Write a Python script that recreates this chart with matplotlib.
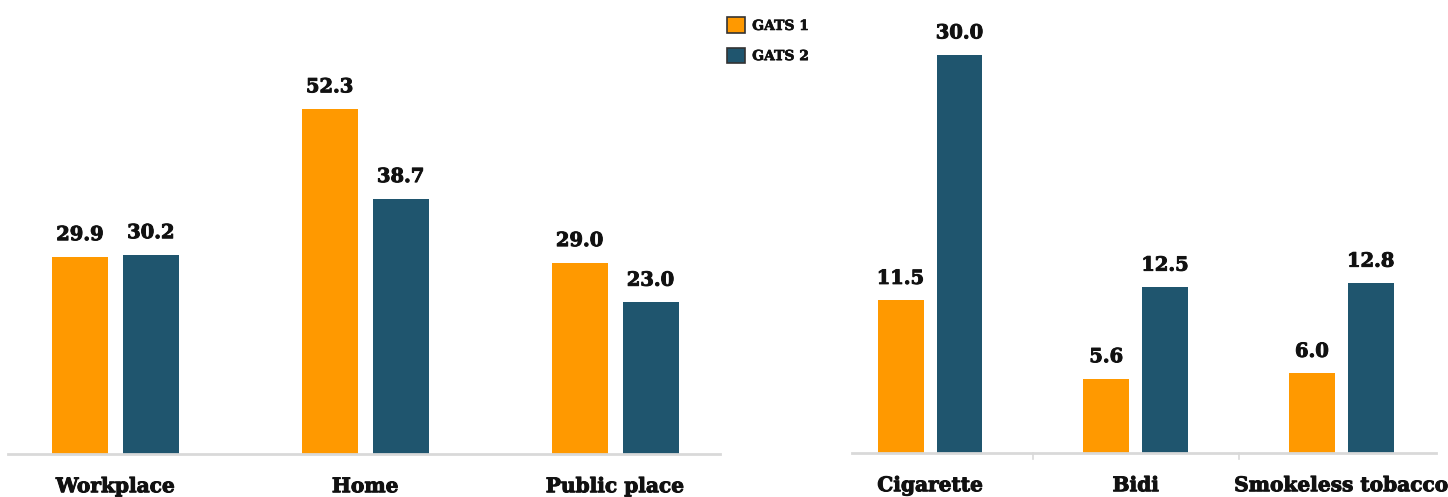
import matplotlib
matplotlib.use("Agg")
import matplotlib.pyplot as plt
import matplotlib.patheffects as pe
import numpy as np

# exposure to second-hand smoke, by place
places = ["Workplace", "Home", "Public place"]
place_gats1 = [29.9, 52.3, 29.0]
place_gats2 = [30.2, 38.7, 23.0]

# tobacco product use
products = ["Cigarette", "Bidi", "Smokeless tobacco"]
product_gats1 = [11.5, 5.6, 6.0]
product_gats2 = [30.0, 12.5, 12.8]

series_names = ["GATS 1", "GATS 2"]
orange = "#FF9900"
blue = "#1F556E"
axis_grey = "#D9D9D9"
text_col = "#111111"

plt.rcParams["font.family"] = ["DejaVu Serif"]
plt.rcParams["font.weight"] = "bold"

fig = plt.figure(figsize=(14.48, 4.97), dpi=100)

W, H = 1448, 497
heavy = [pe.withStroke(linewidth=0.7, foreground=text_col)]


def draw_panel(ax, cats, v1, v2, width, gap, ymax, xlim, ticks):
    x = np.arange(len(cats))
    off = (width + gap) / 2
    b1 = ax.bar(x - off, v1, width, color=orange, label=series_names[0])
    b2 = ax.bar(x + off, v2, width, color=blue, label=series_names[1])
    for bars in (b1, b2):
        for rect in bars:
            h = rect.get_height()
            ax.annotate(f"{h:.1f}", (rect.get_x() + rect.get_width() / 2, h),
                        xytext=(0, 9), textcoords="offset points",
                        ha="center", va="bottom", fontsize=14, fontweight="bold",
                        color=text_col, path_effects=heavy)
    ax.set_xlim(*xlim)
    ax.set_ylim(0, ymax)
    ax.set_yticks([])
    for s in ["top", "right", "left"]:
        ax.spines[s].set_visible(False)
    ax.spines["bottom"].set_color(axis_grey)
    ax.spines["bottom"].set_linewidth(2)
    ax.set_xticks(x)
    ax.set_xticklabels(cats, fontsize=14.5, fontweight="bold")
    for lbl in ax.get_xticklabels():
        lbl.set_path_effects(heavy)
    ax.tick_params(axis="x", length=0, pad=16, colors=text_col)
    for t in ticks:
        ax.plot([t, t], [0, -0.014], transform=ax.get_xaxis_transform(),
                color=axis_grey, lw=1.2, clip_on=False)
    return b1, b2


# left panel: baseline at y=454 px, ~6.6 px per unit
ax1 = fig.add_axes([8 / W, 1 - 454 / H, 712 / W, 454 / H])
h1, h2 = draw_panel(ax1, places, place_gats1, place_gats2, 0.224, 0.06,
                    454 / 6.6, (-0.43, 2.42), [])

# right panel: baseline at y=453 px, ~13.27 px per unit
ax2 = fig.add_axes([852 / W, 1 - 453 / H, 584 / W, 453 / H])
draw_panel(ax2, products, product_gats1, product_gats2, 0.223, 0.063,
           453 / 13.27, (-0.38, 2.46), [0.5, 1.5])

leg = fig.legend(handles=[h1, h2], labels=series_names,
                 loc="upper left", bbox_to_anchor=(714 / W, 1 - 5 / H),
                 frameon=False, fontsize=10, handlelength=1.3, handleheight=1.35,
                 labelspacing=1.05, handletextpad=0.55)
for p in leg.get_patches():
    p.set_edgecolor("#333333")
    p.set_linewidth(1.2)
for t in leg.get_texts():
    t.set_color(text_col)
    t.set_path_effects([pe.withStroke(linewidth=0.5, foreground=text_col)])

fig.savefig("out.png", dpi=100)
